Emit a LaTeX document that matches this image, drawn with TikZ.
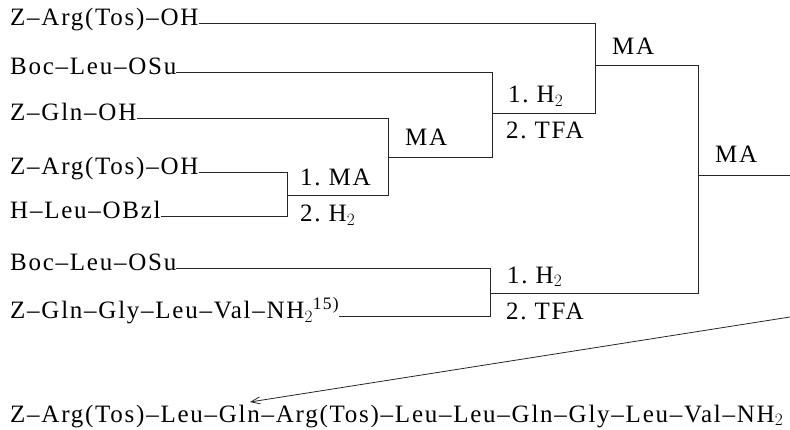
\documentclass[tikz,border=0pt]{standalone}
\usepackage{fontspec}
\setmainfont{Liberation Serif}[LetterSpace=7]
\usetikzlibrary{positioning,arrows.meta}

\begin{document}
\begin{tikzpicture}[
        x=1pt, y=1pt,
        cpd/.style={inner sep=0pt, anchor=mid west, font=\fontsize{25}{29}\selectfont},
        lbl/.style={inner sep=0pt, anchor=base west, font=\fontsize{25}{29}\selectfont},
        link/.style={line width=0.8pt, black!85},
        node distance=2.5cm
    ]
    \useasboundingbox (0,0) rectangle (790,429);

    % starting materials
    \node[cpd] (za1) at (10,406) {Z–Arg(Tos)–OH};
    \node[cpd] (bl1) at (10,357) {Boc–Leu–OSu};
    \node[cpd] (zg) at (10,311) {Z–Gln–OH};
    \node[cpd] (za2) at (10,257) {Z–Arg(Tos)–OH};
    \node[cpd] (hl) at (10,213) {H–Leu–OBzl};
    \node[cpd] (bl2) at (10,161) {Boc–Leu–OSu};
    \node[cpd] (zq) at (10,113) {Z–Gln–Gly–Leu–Val–NH$_2$\textsuperscript{15)}};

    % junctions
    \coordinate (j1) at (287,234);
    \coordinate (j2) at (388,272);
    \coordinate (j3) at (492,316);
    \coordinate (j4) at (595,364);
    \coordinate (j5) at (490,136);
    \coordinate (j6) at (698,254);
    \coordinate (out) at (790,254);
    \coordinate (cont) at (790,112);
    \coordinate (tip) at (250,27);

    \draw[link] (za2.mid east) -| (j1);
    \draw[link] (hl.mid east) -| (j1);
    \draw[link] (zg.mid east) -| (j2);
    \draw[link] (j1) -| (j2);
    \draw[link] (bl1.mid east) -| (j3);
    \draw[link] (j2) -| (j3);
    \draw[link] (za1.mid east) -| (j4);
    \draw[link] (j3) -| (j4);
    \draw[link] (bl2.mid east) -| (j5);
    \draw[link] (zq.mid east) -| (j5);
    \draw[link] (j4) -| (j6);
    \draw[link] (j5) -| (j6);
    \draw[link] (j6) -- (out);

    % reagents
    \node[lbl] (r1a) at ([shift={(13,9)}]j1) {1.\ MA};
    \node[lbl] (r1b) at ([shift={(13,-27)}]j1) {2.\ H$_2$};
    \node[lbl] (r2) at ([shift={(17,11)}]j2) {MA};
    \node[lbl] (r3a) at ([shift={(16,10)}]j3) {1.\ H$_2$};
    \node[lbl] (r3b) at ([shift={(14,-26)}]j3) {2.\ TFA};
    \node[lbl] (r4) at ([shift={(17,10)}]j4) {MA};
    \node[lbl] (r5a) at ([shift={(17,10)}]j5) {1.\ H$_2$};
    \node[lbl] (r5b) at ([shift={(16,-26)}]j5) {2.\ TFA};
    \node[lbl] (r6) at ([shift={(17,12)}]j6) {MA};

    % product
    \node[lbl] (prod) at (10,7) {Z–Arg(Tos)–Leu–Gln–Arg(Tos)–Leu–Leu–Gln–Gly–Leu–Val–NH$_2$};
    \draw[link, -{Straight Barb[length=9pt,width=7pt]}] (cont) -- (tip);
\end{tikzpicture}
\end{document}
